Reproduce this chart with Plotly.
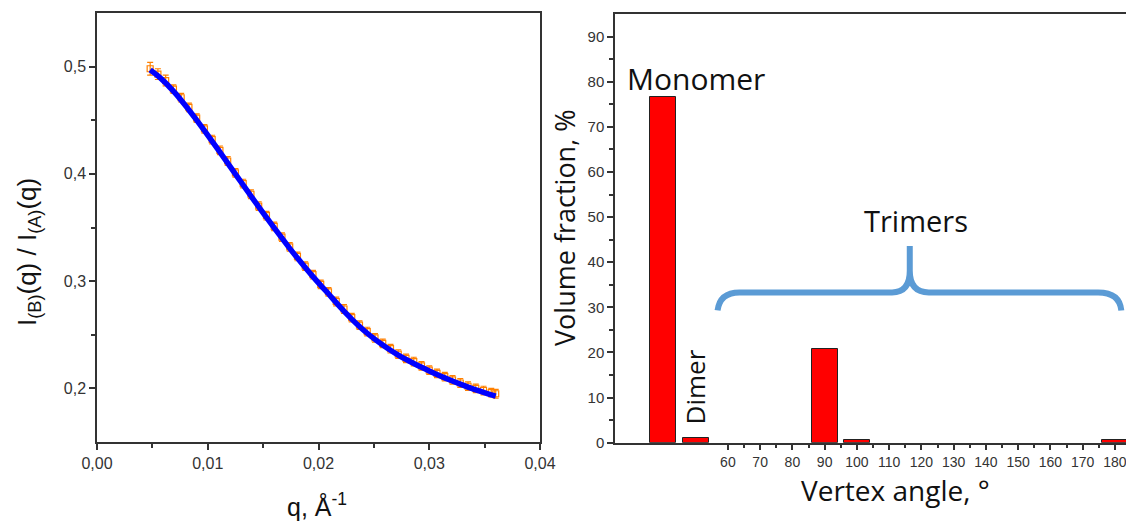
import plotly.graph_objects as go

# ---------------- data: left panel (ratio curve) ----------------
q_vals = [0.0048, 0.0055, 0.0062, 0.0069, 0.0076, 0.0083, 0.0090, 0.0097, 0.0104, 0.0111,
          0.0118, 0.0125, 0.0132, 0.0139, 0.0146, 0.0153, 0.0160, 0.0167, 0.0174, 0.0181,
          0.0188, 0.0195, 0.0202, 0.0209, 0.0216, 0.0223, 0.0230, 0.0237, 0.0244, 0.0251,
          0.0258, 0.0265, 0.0272, 0.0279, 0.0286, 0.0293, 0.0300, 0.0307, 0.0314, 0.0321,
          0.0328, 0.0335, 0.0342, 0.0349, 0.0356, 0.0360]
ratio_data = [0.498, 0.493, 0.487, 0.479, 0.471, 0.462, 0.452, 0.442, 0.432, 0.422,
              0.412, 0.401, 0.391, 0.381, 0.370, 0.361, 0.351, 0.341, 0.332, 0.323,
              0.314, 0.306, 0.297, 0.290, 0.281, 0.274, 0.266, 0.259, 0.253, 0.247,
              0.242, 0.237, 0.232, 0.228, 0.225, 0.221, 0.217, 0.214, 0.211, 0.208,
              0.205, 0.202, 0.200, 0.198, 0.196, 0.195]
ratio_err = [0.006, 0.005, 0.005, 0.004, 0.004, 0.004, 0.004, 0.004, 0.004, 0.004,
             0.004, 0.004, 0.004, 0.004, 0.004, 0.004, 0.004, 0.004, 0.004, 0.004,
             0.004, 0.004, 0.004, 0.004, 0.004, 0.004, 0.004, 0.004, 0.004, 0.004,
             0.004, 0.004, 0.004, 0.004, 0.004, 0.004, 0.004, 0.004, 0.004, 0.004,
             0.004, 0.004, 0.004, 0.004, 0.004, 0.004]
ratio_fit = [0.4970, 0.4914, 0.4848, 0.4771, 0.4687, 0.4596, 0.4501, 0.4403, 0.4303, 0.4202,
             0.4100, 0.3998, 0.3896, 0.3794, 0.3693, 0.3594, 0.3496, 0.3400, 0.3306, 0.3215,
             0.3127, 0.3042, 0.2960, 0.2882, 0.2799, 0.2720, 0.2646, 0.2577, 0.2514, 0.2457,
             0.2405, 0.2356, 0.2311, 0.2270, 0.2232, 0.2196, 0.2162, 0.2129, 0.2098, 0.2068,
             0.2039, 0.2012, 0.1986, 0.1962, 0.1939, 0.1927]

# ---------------- data: right panel (volume fractions) ----------------
vertex_angle = [40, 50, 90, 100, 180]
volume_fraction = [76.5, 1.0, 20.8, 0.7, 0.7]
x_ticks = [60, 70, 80, 90, 100, 110, 120, 130, 140, 150, 160, 170, 180]
x_minor = [65, 75, 85, 95, 105, 115, 125, 135, 145, 155, 165, 175]
y_ticks = [0, 10, 20, 30, 40, 50, 60, 70, 80, 90]

# page body has an 8px margin: work in window pixels and convert to paper fractions
W, H, OFF = 1126, 513, 8


def px(x):
    return (x - OFF) / W


def py(y):
    return 1 - (y - OFF) / H


LABELFONT = "Open Sans, Noto Sans, sans-serif"
AX = "#333333"

fig = go.Figure()

fig.add_trace(go.Scatter(
    x=q_vals, y=ratio_data, mode="markers",
    marker=dict(symbol="square-open", size=6, color="#ff8000", line=dict(width=1.2, color="#ff8000")),
    error_y=dict(type="data", array=ratio_err, color="#ff8000", thickness=1.2, width=3),
    xaxis="x", yaxis="y", showlegend=False))
fig.add_trace(go.Scatter(
    x=q_vals, y=ratio_fit, mode="lines", line=dict(color="#0000ff", width=5.5, shape="spline"),
    xaxis="x", yaxis="y", showlegend=False))

fig.add_trace(go.Bar(
    x=vertex_angle, y=volume_fraction, width=8,
    marker=dict(color="#ff0000", line=dict(color="#222222", width=1)),
    xaxis="x2", yaxis="y2", showlegend=False))


def common(size):
    return dict(showline=True, linecolor=AX, linewidth=1.5, mirror=True, ticks="outside",
                tickcolor=AX, tickwidth=1.5, ticklen=6, showgrid=False, zeroline=False,
                tickfont=dict(family="Liberation Sans, Arial", size=size, color="#333333"),
                automargin=False)


minor_common = dict(tickmode="array", ticks="outside", ticklen=4, tickcolor=AX, tickwidth=1.5)

fig.update_layout(
    width=W, height=H, margin=dict(l=0, r=0, t=0, b=0),
    paper_bgcolor="white", plot_bgcolor="white", separators=",.",
    bargap=0,
    xaxis=dict(domain=[px(97), px(540)], range=[0, 0.04], tickmode="array",
               tickvals=[0, 0.01, 0.02, 0.03, 0.04], tickformat=".2f",
               minor=dict(tickvals=[0.005, 0.015, 0.025, 0.035], **minor_common),
               anchor="y", **common(16)),
    yaxis=dict(domain=[py(442), py(13)], range=[0.15, 0.55], tickmode="array",
               tickvals=[0.2, 0.3, 0.4, 0.5], tickformat=".1f",
               minor=dict(tickvals=[0.25, 0.35, 0.45], **minor_common),
               anchor="x", **common(16)),
    xaxis2=dict(domain=[px(615), px(1131)], range=[25, 185], tickmode="array",
                tickvals=x_ticks,
                minor=dict(tickvals=x_minor, **minor_common),
                anchor="y2", **common(14)),
    yaxis2=dict(domain=[py(442.7), py(14)], range=[0, 95], tickmode="array",
                tickvals=y_ticks,
                minor=dict(tickvals=[5, 15, 25, 35, 45, 55, 65, 75, 85], **minor_common),
                anchor="x2", **common(15)),
)

C = "#111111"
ann = [
    dict(text="I<sub>(B)</sub>(q) / I<sub>(A)</sub>(q)", xref="paper", yref="paper",
         x=px(28), y=py(252), textangle=-90,
         font=dict(family="Liberation Sans, Arial", size=26, color=C)),
    dict(text="q, Å<sup>-1</sup>", xref="paper", yref="paper", x=px(317), y=py(505),
         font=dict(family="Liberation Sans, Arial", size=25, color=C)),
    dict(text="Volume fraction, %", xref="paper", yref="paper", x=px(564), y=py(228),
         textangle=-90, font=dict(family=LABELFONT, size=27, color=C)),
    dict(text="Vertex angle, °", xref="paper", yref="paper", x=px(895), y=py(490),
         font=dict(family=LABELFONT, size=28, color=C)),
    dict(text="Monomer", xref="x2", yref="y2", x=50.0, y=80.8,
         font=dict(family=LABELFONT, size=30, color=C)),
    dict(text="Dimer", xref="x2", yref="y2", x=49.7, y=12.4, textangle=-90,
         font=dict(family=LABELFONT, size=26, color=C)),
    dict(text="Trimers", xref="x2", yref="y2", x=118.2, y=49.2,
         font=dict(family=LABELFONT, size=29, color=C)),
]
for a in ann:
    a.update(showarrow=False, xanchor="center", yanchor="middle")
fig.update_layout(annotations=ann)

brace = ("M 56.8,29.3 Q 57.5,33.3 63.6,33.3 L 110.9,33.3 Q 116.4,33.3 116.4,38.1 "
         "L 116.4,43.6 M 116.4,38.1 Q 116.4,33.3 122.3,33.3 L 174.8,33.3 "
         "Q 181.5,33.3 182,29.3")
fig.add_shape(type="path", path=brace, xref="x2", yref="y2",
              line=dict(color="#5b9bd5", width=6))

fig.write_html("out.html")
